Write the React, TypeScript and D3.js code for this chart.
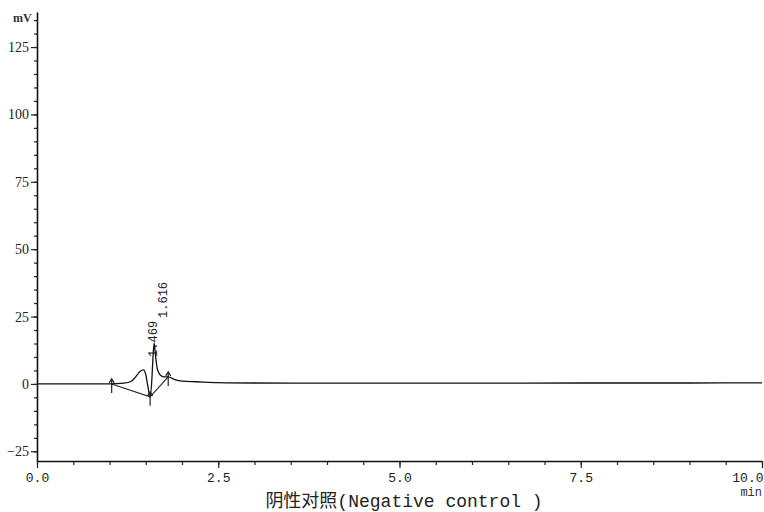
import React, { useRef, useEffect } from 'react';
import * as d3 from 'd3';

// chromatogram trace (min, mV)
const times = [0, 0.5, 1.0, 1.2, 1.3, 1.36, 1.42, 1.469, 1.5, 1.53, 1.56, 1.585, 1.6, 1.616, 1.635, 1.66, 1.7, 1.75, 1.81, 1.9, 2.0, 2.2, 2.5, 3.0, 4.0, 5.0, 6.0, 7.5, 9.0, 10.0];
const signal = [0, 0, 0.05, 0.3, 1.0, 2.6, 4.6, 5.2, 3.5, -1.0, -4.8, 2.0, 10.0, 15.2, 10.5, 5.5, 3.3, 2.6, 2.6, 1.6, 1.0, 0.8, 0.5, 0.35, 0.3, 0.3, 0.3, 0.35, 0.35, 0.4];

// integration events (baseline start / valley / end)
const eventTimes = [1.03, 1.56, 1.81];
const eventValues = [0, -4.8, 2.6];

// peak retention-time labels
const peakTimes = [1.469, 1.616];
const peakLabels = ['1.469', '1.616'];

const xTicks = [0, 2.5, 5, 7.5, 10];
const yTicks = [-25, 0, 25, 50, 75, 100, 125];

const App: React.FC = () => {
  const ref = useRef<SVGSVGElement | null>(null);

  useEffect(() => {
    if (!ref.current) return;
    const svg = d3.select(ref.current);
    svg.selectAll('*').remove();

    const width = 764;
    const height = 512;
    const left = 37;
    const right = 762;
    const top = 12;
    const bottom = 461;

    const x = d3.scaleLinear().domain([0, 10]).range([left, right]);
    const y = d3.scaleLinear().domain([-28.6, 138]).range([bottom, top]);

    svg.attr('width', width).attr('height', height)
      .attr('viewBox', [0, 0, width, height].join(' '));

    // y axis minor ticks
    svg.append('g')
      .attr('transform', `translate(${left},0)`)
      .call(d3.axisLeft(y).tickValues(d3.range(-25, 136, 5)).tickSize(3).tickSizeOuter(0).tickFormat(() => ''))
      .call(g => g.select('.domain').remove())
      .call(g => g.selectAll('.tick line').attr('stroke', '#222').attr('stroke-width', 1.2));

    // y axis
    svg.append('g')
      .attr('transform', `translate(${left},0)`)
      .call(d3.axisLeft(y).tickValues(yTicks).tickSize(6).tickPadding(2).tickSizeOuter(0))
      .call(g => g.select('.domain').attr('stroke', '#111').attr('stroke-width', 1.6))
      .call(g => g.selectAll('.tick line').attr('stroke', '#222').attr('stroke-width', 1.2))
      .call(g => g.selectAll('.tick text')
        .attr('font-family', '"Liberation Serif", serif')
        .attr('font-size', 14)
        .attr('fill', '#222'));

    // x axis minor ticks
    svg.append('g')
      .attr('transform', `translate(0,${bottom})`)
      .call(d3.axisBottom(x).tickValues(d3.range(0, 10.01, 0.5)).tickSize(4).tickSizeOuter(0).tickFormat(() => ''))
      .call(g => g.select('.domain').remove())
      .call(g => g.selectAll('.tick line').attr('stroke', '#222').attr('stroke-width', 1.2));

    // x axis
    svg.append('g')
      .attr('transform', `translate(0,${bottom})`)
      .call(d3.axisBottom(x).tickValues(xTicks).tickSize(7).tickPadding(5).tickSizeOuter(0).tickFormat(d3.format('.1f')))
      .call(g => g.select('.domain').attr('stroke', '#111').attr('stroke-width', 1.6))
      .call(g => g.selectAll('.tick line').attr('stroke', '#222').attr('stroke-width', 1.2))
      .call(g => g.selectAll('.tick text')
        .attr('font-family', '"Liberation Mono", monospace')
        .attr('font-size', 13)
        .attr('fill', '#222'))
      // last label sits flush against the right edge
      .call(g => g.selectAll<SVGTextElement, number>('.tick text')
        .filter(d => d === 10)
        .attr('text-anchor', 'end')
        .attr('x', 1));

    // unit labels
    svg.append('text')
      .attr('x', 13).attr('y', 22)
      .attr('font-family', '"Liberation Serif", serif')
      .attr('font-size', 12)
      .attr('font-weight', 'bold')
      .attr('fill', '#333')
      .text('mV');

    svg.append('text')
      .attr('x', right).attr('y', 496)
      .attr('text-anchor', 'end')
      .attr('font-family', '"Liberation Mono", monospace')
      .attr('font-size', 12)
      .attr('fill', '#333')
      .text('min');

    // title
    svg.append('text')
      .attr('x', 404).attr('y', 507)
      .attr('text-anchor', 'middle')
      .attr('font-family', '"Liberation Mono", "Noto Sans CJK SC", monospace')
      .attr('font-size', 18)
      .attr('fill', '#222')
      .text('阴性对照(Negative control )');

    // peak labels
    const labelOffsets = [13, 25];
    svg.append('g')
      .selectAll('text')
      .data(peakTimes)
      .join('text')
        .attr('transform', (d, i) => {
          const j = times.indexOf(d);
          return `translate(${x(d) + 13},${y(signal[j]) - labelOffsets[i]}) rotate(-90)`;
        })
        .attr('font-family', '"Liberation Mono", monospace')
        .attr('font-size', 12)
        .attr('fill', '#222')
        .text((d, i) => peakLabels[i]);

    // baseline segments
    const events = eventTimes.map((t, i) => [t, eventValues[i]] as [number, number]);
    svg.append('path')
      .datum(events)
      .attr('fill', 'none')
      .attr('stroke', '#222')
      .attr('stroke-width', 1.1)
      .attr('d', d3.line<[number, number]>().x(d => x(d[0])).y(d => y(d[1])));

    // trace
    const pts = times.map((t, i) => [t, signal[i]] as [number, number]);
    svg.append('path')
      .datum(pts)
      .attr('fill', 'none')
      .attr('stroke', '#111')
      .attr('stroke-width', 1.3)
      .attr('d', d3.line<[number, number]>().x(d => x(d[0])).y(d => y(d[1])).curve(d3.curveMonotoneX));

    // event markers (small up arrows)
    const mk = svg.append('g').attr('stroke', '#222').attr('stroke-width', 1.2).attr('fill', 'none');
    events.forEach(([t, v]) => {
      const px = x(t);
      const py = y(v);
      mk.append('line').attr('x1', px).attr('x2', px).attr('y1', py - 5).attr('y2', py + 9);
      mk.append('path').attr('d', `M${px - 2.5},${py - 1}L${px},${py - 5}L${px + 2.5},${py - 1}`);
    });
  }, []);

  return <svg ref={ref} style={{ position: 'absolute', left: 0, top: 0, background: '#fff' }} />;
};

export default App;
